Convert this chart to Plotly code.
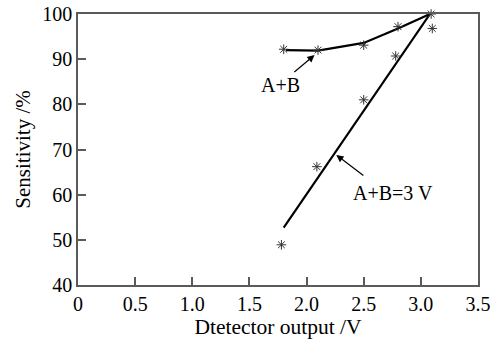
import plotly.graph_objects as go

# A+B curve (line vertices and measured points)
ab_line_x = [1.82, 2.10, 2.50, 2.80, 3.08]
ab_line_y = [92.0, 91.9, 93.6, 96.8, 100.0]
ab_pts_x = [1.80, 2.10, 2.50, 2.80, 3.09]
ab_pts_y = [92.2, 92.0, 93.1, 97.2, 100.0]

# A+B=3 V fit line and measured points
v3_line_x = [1.80, 3.08]
v3_line_y = [52.7, 100.0]
v3_pts_x = [1.78, 2.09, 2.50, 2.78, 3.10]
v3_pts_y = [48.9, 66.2, 81.0, 90.7, 96.8]

x_ticks = [0, 0.5, 1.0, 1.5, 2.0, 2.5, 3.0, 3.5]
x_tick_labels = ["0", "0.5", "1.0", "1.5", "2.0", "2.5", "3.0", "3.5"]
y_ticks = [40, 50, 60, 70, 80, 90, 100]

FONT = "Liberation Serif"
AX = "#5a5a5a"
STAR = "#333333"

fig = go.Figure()
fig.add_trace(go.Scatter(x=ab_line_x, y=ab_line_y, mode="lines", cliponaxis=False,
                         line=dict(color="black", width=2.2), showlegend=False))
fig.add_trace(go.Scatter(x=v3_line_x, y=v3_line_y, mode="lines", cliponaxis=False,
                         line=dict(color="black", width=2.2), showlegend=False))
for xs, ys in [(ab_pts_x, ab_pts_y), (v3_pts_x, v3_pts_y)]:
    fig.add_trace(go.Scatter(x=xs, y=ys, mode="markers", showlegend=False,
                             cliponaxis=False,
                             marker=dict(symbol="asterisk-open", size=8, color=STAR,
                                         line=dict(color=STAR, width=1))))

fig.add_annotation(x=2.07, y=90.9, ax=1.88, ay=86.9, axref="x", ayref="y",
                   text="", showarrow=True, arrowhead=2, arrowsize=1.2,
                   arrowwidth=1.2, arrowcolor="black")
fig.add_annotation(x=1.77, y=84.3, text="A+B", showarrow=False,
                   font=dict(family=FONT, size=20, color="black"))
fig.add_annotation(x=2.26, y=68.8, ax=2.51, ay=64.0, axref="x", ayref="y",
                   text="", showarrow=True, arrowhead=2, arrowsize=1.2,
                   arrowwidth=1.2, arrowcolor="black")
fig.add_annotation(x=2.76, y=60.4, text="A+B=3 V", showarrow=False,
                   font=dict(family=FONT, size=20, color="black"))

fig.update_layout(
    width=503, height=343,
    margin=dict(l=78, r=25, t=14, b=58),
    paper_bgcolor="white", plot_bgcolor="white",
    font=dict(family=FONT, size=20, color="black"),
    hovermode=False,
    xaxis=dict(range=[0, 3.5], tickvals=x_ticks, ticktext=x_tick_labels,
               ticks="inside", ticklen=8, tickwidth=1.5, tickcolor=AX,
               showline=True, linecolor=AX, linewidth=1.5, mirror=True,
               showgrid=False, zeroline=False, automargin=False,
               tickfont=dict(size=20),
               title=dict(text="Dtetector output /V", standoff=3, font=dict(size=21.5))),
    yaxis=dict(range=[40, 100], tickvals=y_ticks,
               ticks="inside", ticklen=8, tickwidth=1.5, tickcolor=AX,
               showline=True, linecolor=AX, linewidth=1.5, mirror=True,
               showgrid=False, zeroline=False, automargin=False,
               tickfont=dict(size=20),
               title=dict(text="Sensitivity /%", standoff=6, font=dict(size=21))),
)
fig.write_html("out.html", config={"displayModeBar": False},
               post_script="document.body.style.margin='0';document.body.style.overflow='hidden';")
